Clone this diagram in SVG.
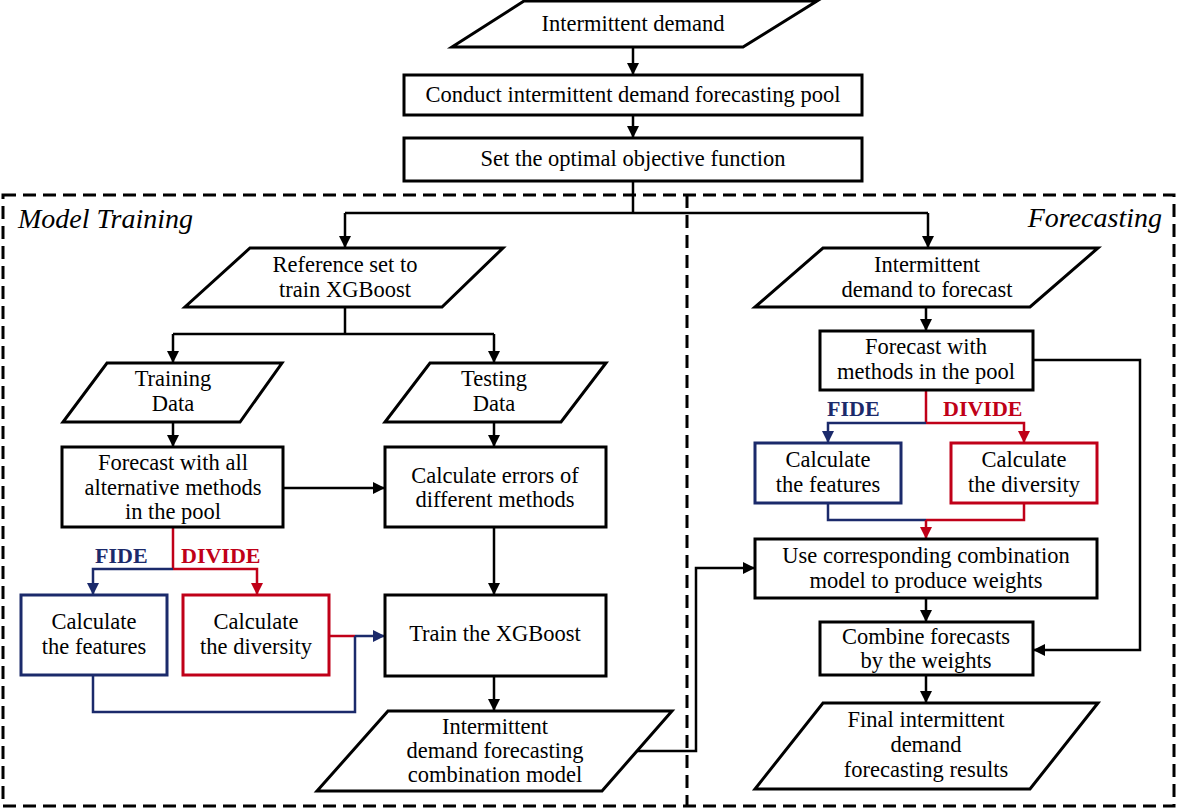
<svg xmlns="http://www.w3.org/2000/svg" width="1181" height="809" viewBox="0 0 1181 809">
<style>
  .box{fill:#fff;stroke:#000;stroke-width:3}
  .bbox{fill:#fff;stroke:#1b2a6b;stroke-width:3}
  .rbox{fill:#fff;stroke:#c00018;stroke-width:3}
  text{font-family:'Liberation Serif',Tinos,'Times New Roman',Times,'DejaVu Serif',serif}
  .t{font-size:22.5px;fill:#000;text-anchor:middle}
  .h{font-size:28px;font-style:italic;fill:#000}
  .lb{font-size:22px;font-weight:bold}
  .c{fill:none;stroke:#000;stroke-width:2.5}
  .cb{fill:none;stroke:#1b2a6b;stroke-width:2.5}
  .cr{fill:none;stroke:#c00018;stroke-width:2.5}
  .dash{fill:none;stroke:#000;stroke-width:3;stroke-dasharray:13 7}
</style>
<defs>
  <marker id="ak" markerUnits="userSpaceOnUse" markerWidth="12" markerHeight="12" refX="12" refY="6" orient="auto"><path d="M0,0 L12,6 L0,12 z" fill="#000"/></marker>
  <marker id="ab" markerUnits="userSpaceOnUse" markerWidth="12" markerHeight="12" refX="12" refY="6" orient="auto"><path d="M0,0 L12,6 L0,12 z" fill="#1b2a6b"/></marker>
  <marker id="ar" markerUnits="userSpaceOnUse" markerWidth="12" markerHeight="12" refX="12" refY="6" orient="auto"><path d="M0,0 L12,6 L0,12 z" fill="#c00018"/></marker>
</defs>
<rect width="1181" height="809" fill="#fff"/>

<g id="regions">
  <rect class="dash" x="3" y="195" width="1171" height="611"/>
  <line class="dash" x1="687" y1="195" x2="687" y2="806"/>
  <text class="h" x="18" y="228" font-family="Liberation Serif, serif">Model Training</text>
  <text class="h" x="1162" y="227" text-anchor="end" font-family="Liberation Serif, serif">Forecasting</text>
</g>

<g id="connectors">
  <line class="c" x1="633" y1="47" x2="633" y2="75" marker-end="url(#ak)"/>
  <line class="c" x1="633" y1="115" x2="633" y2="138" marker-end="url(#ak)"/>
  <polyline class="c" points="633,181 633,213"/>
  <polyline class="c" points="345,213 928,213"/>
  <line class="c" x1="345" y1="213" x2="345" y2="248" marker-end="url(#ak)"/>
  <line class="c" x1="928" y1="213" x2="928" y2="248" marker-end="url(#ak)"/>
  <polyline class="c" points="345,307 345,334"/>
  <polyline class="c" points="173,334 494,334"/>
  <line class="c" x1="173" y1="334" x2="173" y2="363" marker-end="url(#ak)"/>
  <line class="c" x1="494" y1="334" x2="494" y2="363" marker-end="url(#ak)"/>
  <line class="c" x1="173" y1="422" x2="173" y2="447" marker-end="url(#ak)"/>
  <line class="c" x1="494" y1="422" x2="494" y2="447" marker-end="url(#ak)"/>
  <line class="c" x1="283" y1="488" x2="385" y2="488" marker-end="url(#ak)"/>
  <line class="c" x1="494" y1="527" x2="494" y2="595" marker-end="url(#ak)"/>
  <line class="cr" x1="173" y1="527" x2="173" y2="569"/>
  <polyline class="cb" points="173,569 93,569 93,595" marker-end="url(#ab)"/>
  <polyline class="cr" points="173,569 257,569 257,595" marker-end="url(#ar)"/>
  <polyline class="cr" points="329,636 355,636"/>
  <line class="cb" x1="355" y1="636" x2="385" y2="636" marker-end="url(#ab)"/>
  <polyline class="cb" points="93,675 93,712 355,712 355,636"/>
  <line class="c" x1="494" y1="676" x2="494" y2="711" marker-end="url(#ak)"/>
  <polyline class="c" points="637,751 696,751 696,568 755,568" marker-end="url(#ak)"/>

  <line class="c" x1="926" y1="307" x2="926" y2="331" marker-end="url(#ak)"/>
  <polyline class="c" points="1033,360 1140,360 1140,650 1033,650" marker-end="url(#ak)"/>
  <line class="cr" x1="926" y1="390" x2="926" y2="423"/>
  <polyline class="cb" points="926,423 828,423 828,443" marker-end="url(#ab)"/>
  <polyline class="cr" points="926,423 1024,423 1024,443" marker-end="url(#ar)"/>
  <polyline class="cb" points="828,503 828,520 926,520"/>
  <polyline class="cr" points="1024,503 1024,520 926,520"/>
  <line class="cr" x1="926" y1="520" x2="926" y2="539" marker-end="url(#ar)"/>
  <line class="c" x1="926" y1="598" x2="926" y2="622" marker-end="url(#ak)"/>
  <line class="c" x1="926" y1="675" x2="926" y2="703" marker-end="url(#ak)"/>

  <text class="lb" x="95" y="563" fill="#1b2a6b">FIDE</text>
  <text class="lb" x="181" y="563" fill="#c00018">DIVIDE</text>
  <text class="lb" x="827" y="416" fill="#1b2a6b">FIDE</text>
  <text class="lb" x="943" y="416" fill="#c00018">DIVIDE</text>
</g>

<g id="n-input">
  <polygon class="box" points="524,1 817,1 743,47 452,47"/>
  <text class="t" x="633" y="31">Intermittent demand</text>
</g>
<g id="n-pool">
  <rect class="box" x="404" y="75" width="458" height="40"/>
  <text class="t" x="633" y="102">Conduct intermittent demand forecasting pool</text>
</g>
<g id="n-objective">
  <rect class="box" x="404" y="138" width="458" height="43"/>
  <text class="t" x="633" y="166">Set the optimal objective function</text>
</g>

<g id="n-reference">
  <polygon class="box" points="250,248 503,248 442,307 185,307"/>
  <text class="t" x="345" y="272">Reference set to</text>
  <text class="t" x="345" y="297">train XGBoost</text>
</g>
<g id="n-training">
  <polygon class="box" points="107,363 282,363 240,422 63,422"/>
  <text class="t" x="173" y="386">Training</text>
  <text class="t" x="173" y="411">Data</text>
</g>
<g id="n-testing">
  <polygon class="box" points="430,363 606,363 561,422 385,422"/>
  <text class="t" x="494" y="386">Testing</text>
  <text class="t" x="494" y="411">Data</text>
</g>
<g id="n-forecast-all">
  <rect class="box" x="62" y="447" width="221" height="80"/>
  <text class="t" x="173" y="470">Forecast with all</text>
  <text class="t" x="173" y="495">alternative methods</text>
  <text class="t" x="173" y="519">in the pool</text>
</g>
<g id="n-errors">
  <rect class="box" x="385" y="447" width="221" height="80"/>
  <text class="t" x="495" y="483">Calculate errors of</text>
  <text class="t" x="495" y="507">different methods</text>
</g>
<g id="n-features-l">
  <rect class="bbox" x="21" y="595" width="146" height="80"/>
  <text class="t" x="94" y="629">Calculate</text>
  <text class="t" x="94" y="654">the features</text>
</g>
<g id="n-diversity-l">
  <rect class="rbox" x="183" y="595" width="146" height="80"/>
  <text class="t" x="256" y="629">Calculate</text>
  <text class="t" x="256" y="654">the diversity</text>
</g>
<g id="n-train">
  <rect class="box" x="385" y="595" width="221" height="81"/>
  <text class="t" x="495" y="641">Train the XGBoost</text>
</g>
<g id="n-model">
  <polygon class="box" points="388,711 672,711 602,791 317,791"/>
  <text class="t" x="495" y="734">Intermittent</text>
  <text class="t" x="495" y="758">demand forecasting</text>
  <text class="t" x="495" y="782">combination model</text>
</g>

<g id="n-to-forecast">
  <polygon class="box" points="823,248 1098,248 1030,307 755,307"/>
  <text class="t" x="927" y="272">Intermittent</text>
  <text class="t" x="927" y="297">demand to forecast</text>
</g>
<g id="n-forecast-pool">
  <rect class="box" x="820" y="331" width="213" height="59"/>
  <text class="t" x="926" y="354">Forecast with</text>
  <text class="t" x="926" y="379">methods in the pool</text>
</g>
<g id="n-features-r">
  <rect class="bbox" x="755" y="443" width="146" height="60"/>
  <text class="t" x="828" y="467">Calculate</text>
  <text class="t" x="828" y="492">the features</text>
</g>
<g id="n-diversity-r">
  <rect class="rbox" x="951" y="443" width="146" height="60"/>
  <text class="t" x="1024" y="467">Calculate</text>
  <text class="t" x="1024" y="492">the diversity</text>
</g>
<g id="n-weights">
  <rect class="box" x="755" y="539" width="342" height="59"/>
  <text class="t" x="926" y="563">Use corresponding combination</text>
  <text class="t" x="926" y="588">model to produce weights</text>
</g>
<g id="n-combine">
  <rect class="box" x="820" y="622" width="213" height="53"/>
  <text class="t" x="926" y="644">Combine forecasts</text>
  <text class="t" x="926" y="668">by the weights</text>
</g>
<g id="n-final">
  <polygon class="box" points="823,703 1098,703 1030,789 755,789"/>
  <text class="t" x="926" y="727">Final intermittent</text>
  <text class="t" x="926" y="752">demand</text>
  <text class="t" x="926" y="777">forecasting results</text>
</g>
</svg>
